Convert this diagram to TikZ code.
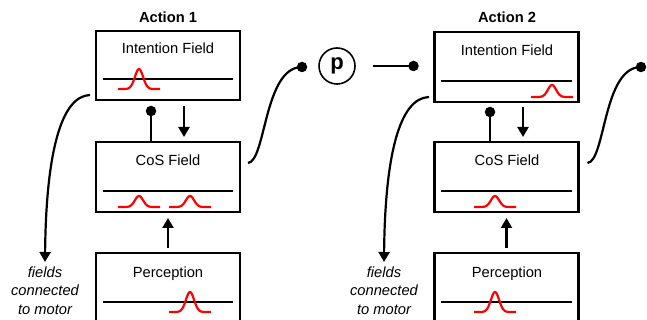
\documentclass[tikz,border=0pt]{standalone}
\usepackage{fontspec}
\setmainfont{Liberation Sans}
\usetikzlibrary{arrows.meta,calc}
\newcommand{\gbump}[4][]{\draw[bump,#1] plot[domain=-21:21,samples=61] ({#2+\x},{#3-#4*exp(-((\x/5.8)*(\x/5.8)))});}
\begin{document}
\begin{tikzpicture}[x=1pt,y=-1pt,
  fbox/.style={draw,line width=2.2pt,minimum width=144pt,inner sep=0pt,outer sep=0pt},
  lbl/.style={font=\fontsize{14.7}{18.5}\selectfont,inner sep=0pt,anchor=base},
  ttl/.style={font=\fontsize{14.7}{18.5}\selectfont\bfseries,inner sep=0pt,anchor=base},
  note/.style={font=\fontsize{14.7}{18.5}\selectfont\itshape,align=center,inner sep=0pt,anchor=north},
  baseln/.style={line width=1.7pt},
  bump/.style={red,line width=2.2pt},
  conn/.style={line width=2.2pt},
  arr/.style={line width=2.2pt,-{Triangle[width=11pt,length=10pt]}},
  dotn/.style={circle,fill,inner sep=0pt,minimum size=10.5pt},
]
\clip (0,0) rectangle (647,320);

% ---------------- Action 1 ----------------
\node[ttl] (t1) at (168,23) {Action 1};
\node[fbox,minimum height=69pt] (int1) at (168,65.5) {};
\node[fbox,minimum height=70pt] (cos1) at (168,177) {};
\node[fbox,minimum height=82pt] (per1) at (168,294) {};
\node[lbl] (li1) at (168,54) {Intention Field};
\node[lbl] (lc1) at (168,166) {CoS Field};
\node[lbl] (lp1) at (168,277) {Perception};
\draw[baseln] (103,79) -- (233,79);
\draw[baseln] (103,191) -- (233,191);
\draw[baseln] (103,302) -- (233,302);
\gbump{139}{89}{20}
\gbump{139}{207}{11}
\gbump{190}{207}{11}
\gbump{190}{312}{20}

\node[dotn] (di1) at (151,111) {};
\draw[conn] (di1 |- cos1.north) -- (di1.center);
\draw[arr,shorten <=6pt,shorten >=5pt] ($(int1.south)+(16,0)$) -- ($(cos1.north)+(16,0)$);
\draw[arr,shorten <=5pt,shorten >=6pt] (per1.north) -- (cos1.south);

\coordinate (m1) at (45,262);
\draw[arr] ($(int1.south west)+(-6,-5)$) .. controls +(-30,1) and +(1,-105) .. (m1);
\node[note] (n1) at (45,266.5) {fields\\connected\\to motor};

\node[dotn] (do1) at (302,67) {};
\draw[conn] ($(cos1.east)+(8,-14)$) .. controls +(18,-2) and +(-38,0) .. (do1.center);

% ---------------- p ----------------
\node[circle,draw,line width=1.6pt,minimum size=36pt,inner sep=0pt,font=\fontsize{22}{22}\selectfont\bfseries] (p) at (337,66) {p};
\node[dotn] (dp) at (413.5,66) {};
\draw[conn] ($(p.east)+(17,0)$) -- (dp.center);

% ---------------- Action 2 ----------------
\node[ttl] (t2) at (507,23) {Action 2};
\node[fbox,minimum height=70pt] (int2) at (506.5,67) {};
\node[fbox,minimum height=70pt] (cos2) at (506.5,177) {};
\node[fbox,minimum height=82pt] (per2) at (506.5,294) {};
\node[lbl] (li2) at (507,56) {Intention Field};
\node[lbl] (lc2) at (507,166) {CoS Field};
\node[lbl] (lp2) at (507,277) {Perception};
\draw[baseln] (441,81) -- (572,81);
\draw[baseln] (441,191) -- (572,191);
\draw[baseln] (441,302) -- (572,302);
\gbump{552}{97}{12}
\gbump{495}{207}{11}
\gbump{495}{312}{20}

\node[dotn] (di2) at (490,112) {};
\draw[conn] (di2 |- cos2.north) -- (di2.center);
\draw[arr,shorten <=5pt,shorten >=5pt] ($(int2.south)+(16.5,0)$) -- ($(cos2.north)+(16.5,0)$);
\draw[arr,shorten <=5pt,shorten >=6pt] (per2.north) -- (cos2.south);

\coordinate (m2) at (384,262);
\draw[arr] ($(int2.south west)+(-5.5,-5)$) .. controls +(-30,1) and +(1,-105) .. (m2);
\node[note] (n2) at (384,266.5) {fields\\connected\\to motor};

\node[dotn] (do2) at (641,67) {};
\draw[conn] ($(cos2.east)+(9,-14)$) .. controls +(18,-2) and +(-38,0) .. (do2.center);
\end{tikzpicture}
\end{document}
